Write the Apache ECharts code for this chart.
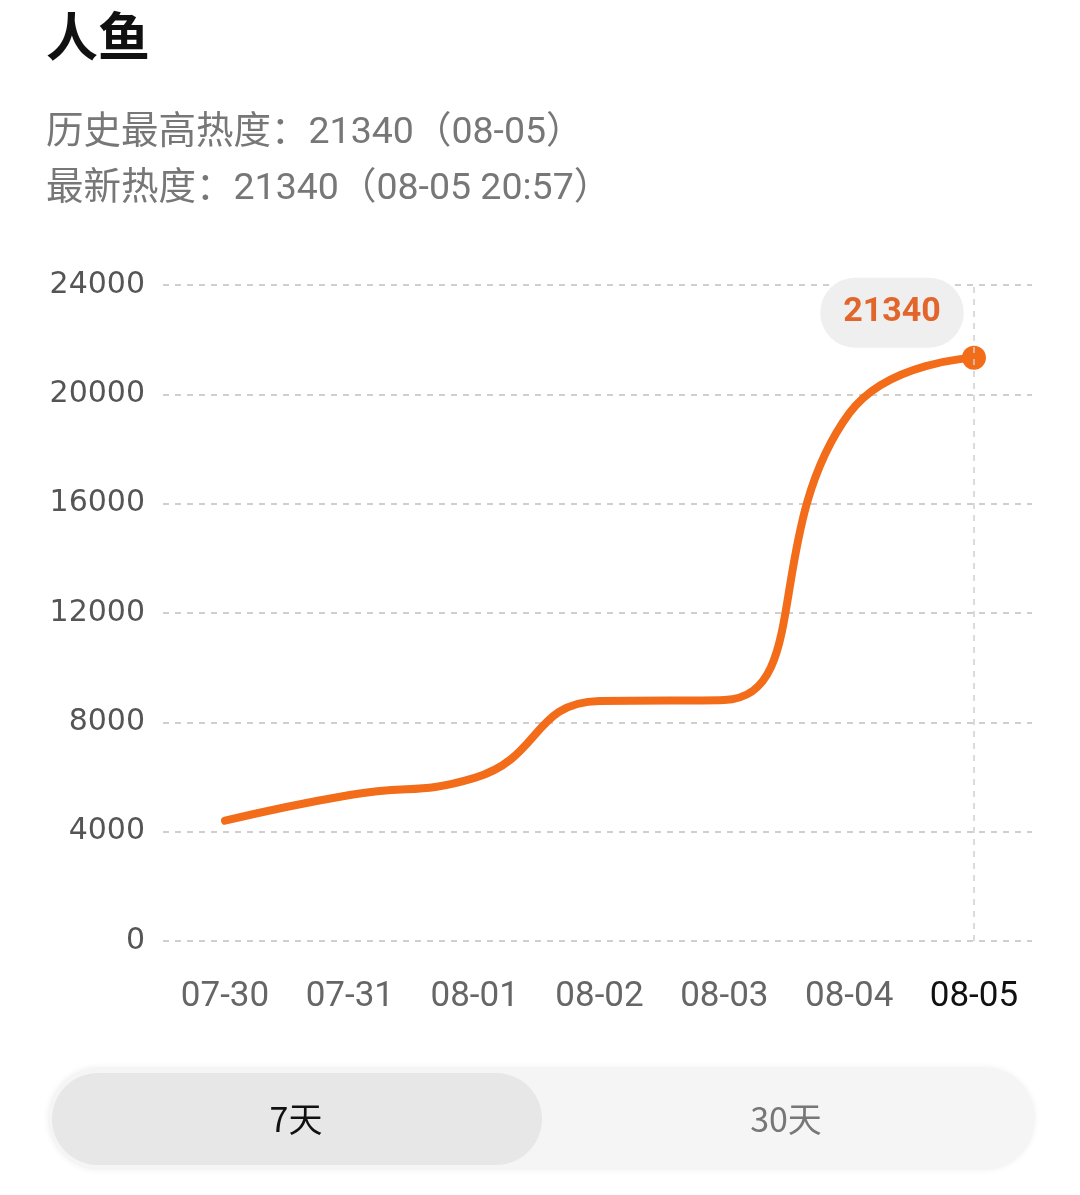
<!DOCTYPE html>
<html>
<head>
<meta charset="utf-8">
<script src="https://cdn.jsdelivr.net/npm/echarts@6/dist/echarts.min.js"></script>
<style>
html,body{margin:0;padding:0;background:#fff;}
#chart{width:1080px;height:1195px;}
</style>
</head>
<body>
<div id="chart"></div>
<script>
// ---- data ----
const titleText = '人鱼';
const dateLabels = ['07-30', '07-31', '08-01', '08-02', '08-03', '08-04', '08-05'];
const heatValues = [4400, 5340, 5970, 8780, 8820, 19300, 21340];
const yTicks = [0, 24000, 4000]; // min, max, interval
const peakValue = 21340;
const peakDate = '08-05';
const latestTime = '08-05 20:57';
const tabLabels = ['7天', '30天'];

const lastIdx = heatValues.length - 1;
const lineData = heatValues.map((v, i) => {
  const item = { value: [i, v] };
  if (i === lastIdx) {
    item.symbol = 'circle';
    item.symbolSize = 24;
    item.label = {
      show: true,
      position: 'top',
      distance: 5,
      offset: [-82, 7],
      formatter: String(v),
      color: '#e2652b',
      fontSize: 34,
      fontWeight: 'bold',
      fontFamily: 'Roboto',
      lineHeight: 36,
      backgroundColor: '#efefef',
      borderRadius: 35,
      padding: [17, 23]
    };
  }
  return item;
});

const subFont = 'Roboto, "Noto Sans CJK SC", sans-serif';

const chart = echarts.init(document.getElementById('chart'));
chart.setOption({
  backgroundColor: '#ffffff',
  animation: false,
  title: [
    { text: titleText, left: 46, top: 10, padding: 0,
      textStyle: { fontSize: 52, fontWeight: 'bold', color: '#111', fontFamily: 'Noto Sans CJK SC' } },
    { text: `历史最高热度：${peakValue}（${peakDate}）`, left: 46, top: 115, padding: 0,
      textStyle: { fontSize: 37.5, fontWeight: 'normal', color: '#777', fontFamily: subFont } },
    { text: `最新热度：${heatValues[lastIdx]}（${latestTime}）`, left: 46, top: 171, padding: 0,
      textStyle: { fontSize: 37.5, fontWeight: 'normal', color: '#777', fontFamily: subFont } }
  ],
  grid: { left: 163, right: 48, top: 285, bottom: 254, containLabel: false },
  xAxis: {
    type: 'value',
    min: -0.497,
    max: 6.465,
    axisLine: { show: false },
    axisTick: { show: false },
    splitLine: { show: false },
    axisLabel: {
      customValues: dateLabels.map((_, i) => i),
      margin: 39,
      fontSize: 35,
      fontFamily: 'Roboto',
      color: '#666',
      formatter: (v) => {
        const i = Math.round(v);
        return i === dateLabels.length - 1 ? `{last|${dateLabels[i]}}` : dateLabels[i];
      },
      rich: { last: { color: '#111', fontSize: 35, fontFamily: 'Roboto' } }
    }
  },
  yAxis: {
    type: 'value',
    min: yTicks[0],
    max: yTicks[1],
    interval: yTicks[2],
    axisLine: { show: false },
    axisTick: { show: false },
    axisLabel: { margin: 18, fontSize: 30, color: '#555', fontFamily: 'DejaVu Sans', formatter: (v) => String(v) },
    splitLine: { show: true, lineStyle: { color: '#cfcfcf', width: 2, type: [6, 6] } }
  },
  series: [{
    type: 'line',
    data: lineData,
    smooth: true,
    symbol: 'none',
    showSymbol: true,
    lineStyle: { color: '#f26c1a', width: 8, cap: 'round', join: 'round' },
    itemStyle: { color: '#f26c1a' },
    markLine: {
      silent: true,
      symbol: 'none',
      label: { show: false },
      lineStyle: { color: '#d0d0d0', width: 1.5, type: [6, 6] },
      data: [{ xAxis: lastIdx }]
    },
    z: 3
  }],
  graphic: [
    { type: 'rect', shape: { x: 48, y: 1067, width: 987, height: 103, r: 51 },
      style: { fill: '#f5f5f5', shadowBlur: 6, shadowColor: 'rgba(0,0,0,0.06)' } },
    { type: 'rect', shape: { x: 52, y: 1073, width: 490, height: 92, r: 46 },
      style: { fill: '#e7e7e7' } },
    { type: 'text', x: 296, y: 1119,
      style: { text: tabLabels[0], fill: '#111', fontSize: 34, fontFamily: 'Noto Sans CJK SC', align: 'center', verticalAlign: 'middle' } },
    { type: 'text', x: 786, y: 1119,
      style: { text: tabLabels[1], fill: '#777', fontSize: 34, fontFamily: 'Noto Sans CJK SC', align: 'center', verticalAlign: 'middle' } }
  ]
});
</script>
</body>
</html>
